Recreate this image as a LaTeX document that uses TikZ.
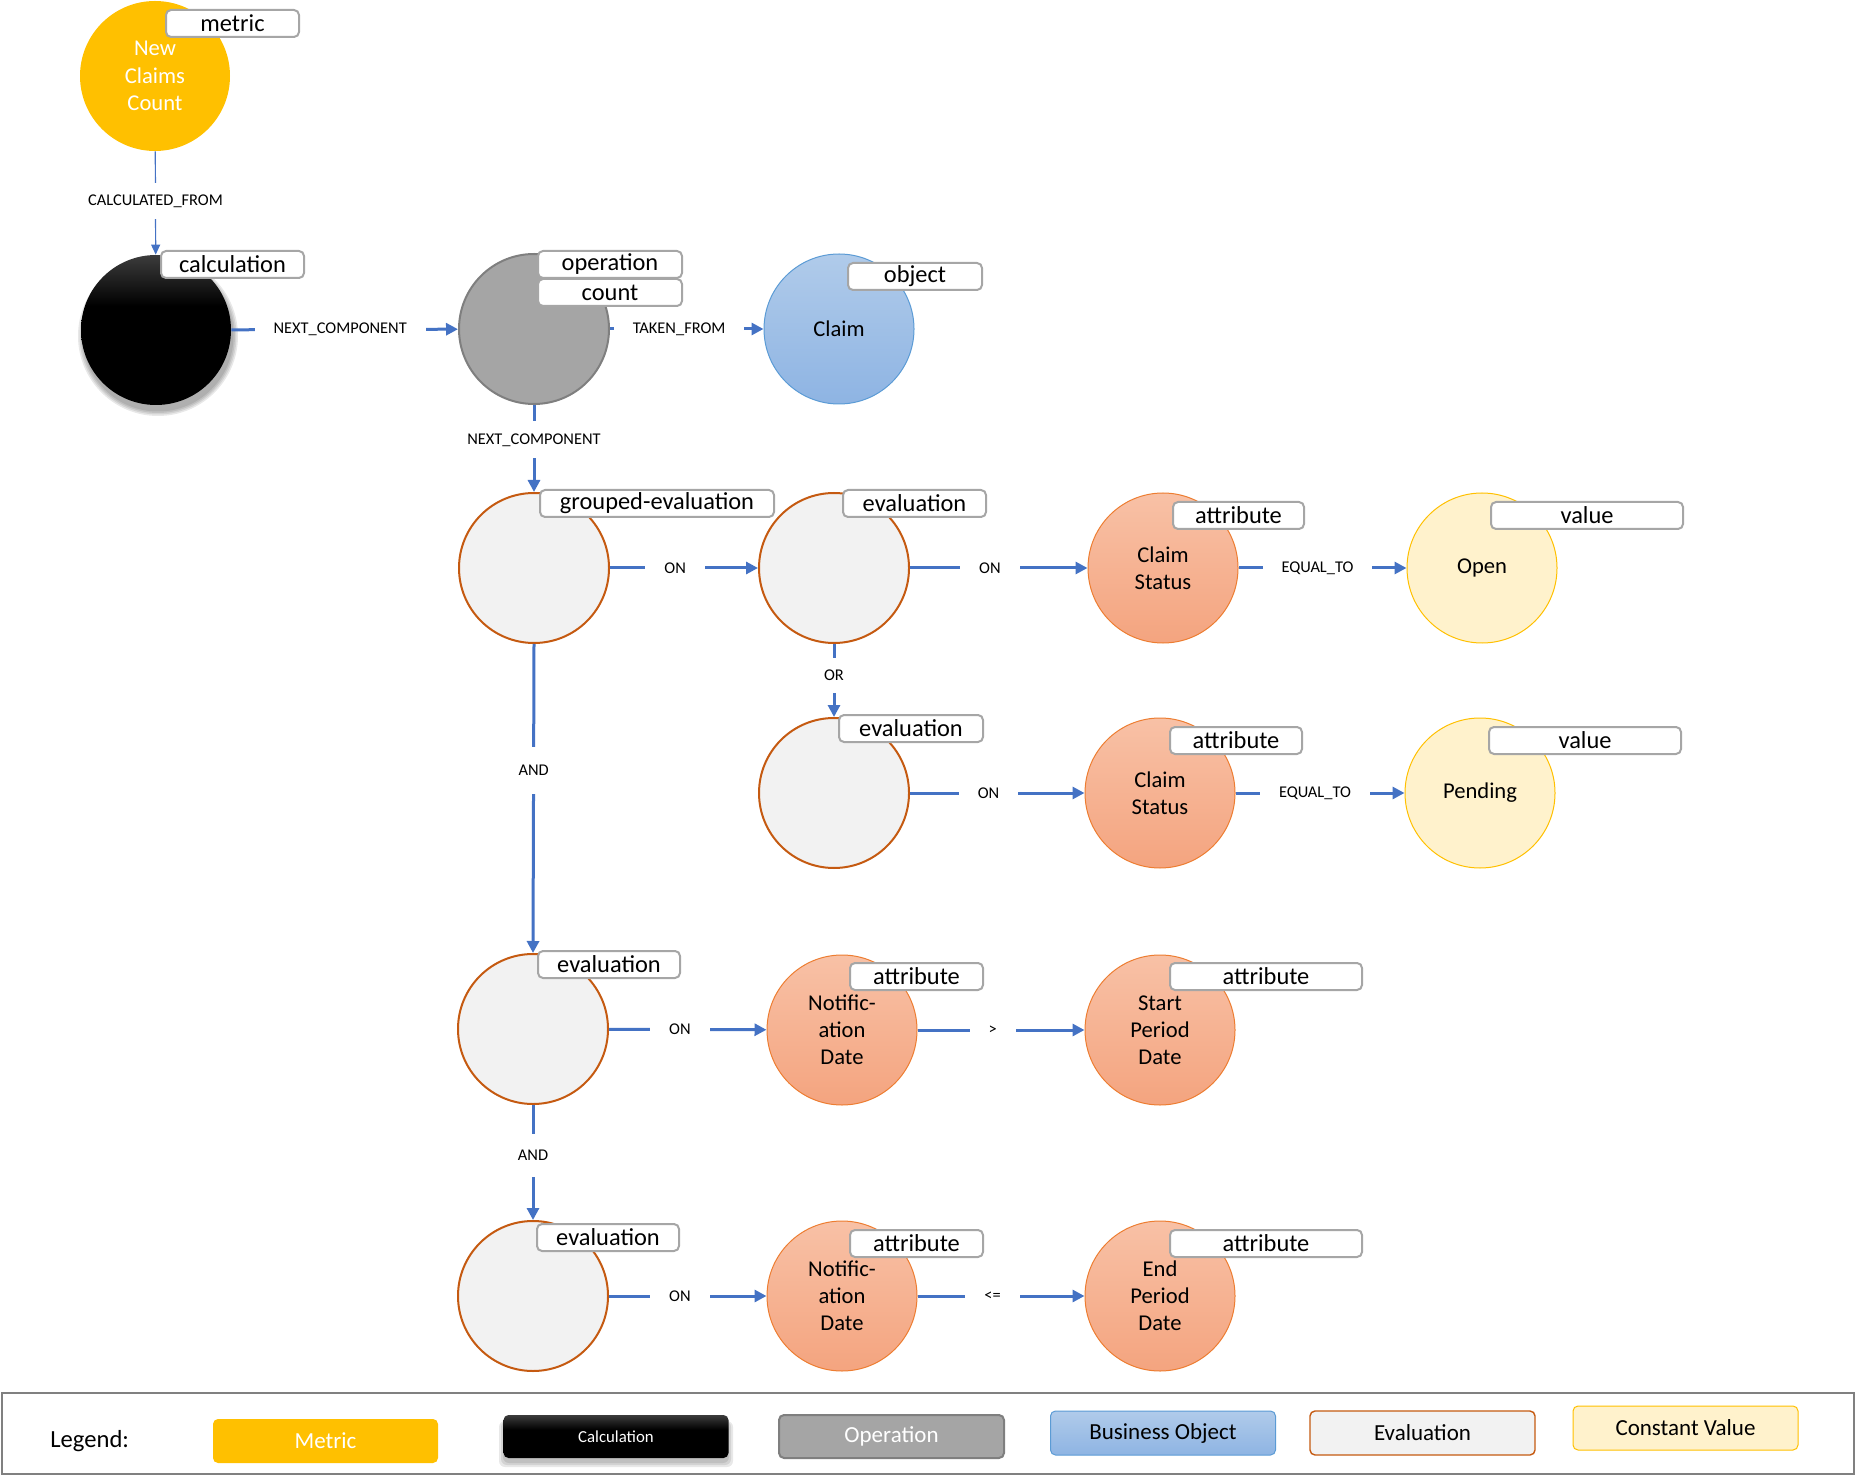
\documentclass[tikz,border=0pt]{standalone}
\usepackage{fontspec}
\setmainfont{Carlito}
\usetikzlibrary{arrows.meta,shadows}
\definecolor{metricC}{HTML}{FFC000}
\definecolor{edgeC}{HTML}{4472C4}
\definecolor{opFill}{HTML}{A5A5A5}
\definecolor{opDraw}{HTML}{7F7F7F}
\definecolor{objTop}{HTML}{B0CBEA}
\definecolor{objBot}{HTML}{8EB4E3}
\definecolor{objDraw}{HTML}{5B9BD5}
\definecolor{evalFill}{HTML}{F2F2F2}
\definecolor{evalDraw}{HTML}{C55A11}
\definecolor{attrTop}{HTML}{F8C1A6}
\definecolor{attrBot}{HTML}{F4A47F}
\definecolor{attrDraw}{HTML}{ED7D31}
\definecolor{valFill}{HTML}{FFF2CC}
\definecolor{valDraw}{HTML}{FFC000}
\definecolor{tagDraw}{HTML}{A6A6A6}
\definecolor{legDraw}{HTML}{808080}
\definecolor{calcTop}{HTML}{3C3C3C}
\pgfdeclareverticalshading{calcshade}{100bp}{color(0bp)=(black); color(58bp)=(black); color(75bp)=(calcTop); color(100bp)=(calcTop)}
\tikzset{
  circ/.style={circle, minimum size=75pt, inner sep=0pt, align=center, font=\fontsize{11.3}{13.6}\selectfont},
  metricnode/.style={circ, fill=metricC, text=white},
  calcnode/.style={circ, shading=calcshade},
  softshadow/.style={fill=black, opacity=0.09},
  opnode/.style={circ, fill=opFill, draw=opDraw, line width=1pt},
  objnode/.style={circ, top color=objTop, bottom color=objBot, draw=objDraw, line width=0.5pt},
  evalnode/.style={circ, fill=evalFill, draw=evalDraw, line width=1pt},
  attrnode/.style={circ, top color=attrTop, bottom color=attrBot, draw=attrDraw, line width=0.5pt},
  valnode/.style={circ, fill=valFill, draw=valDraw, line width=0.5pt},
  tagbox/.style={draw=tagDraw, fill=white, line width=1pt, rounded corners=2.5pt, inner sep=0pt,
    minimum height=13.5pt, anchor=north west, font=\fontsize{12.2}{14}\selectfont},
  conn/.style={draw=edgeC, line width=1.5pt, -{Triangle[length=6pt,width=6pt]}},
  thinconn/.style={draw=edgeC, line width=0.6pt, -{Triangle[length=5pt,width=4.5pt]}},
  elabel/.style={fill=white, inner xsep=9.5pt, inner ysep=6pt, font=\fontsize{8.2}{10}\selectfont, text=black},
  legbox/.style={rounded corners=2.5pt, inner sep=0pt, minimum width=112.5pt, minimum height=22pt,
    font=\fontsize{11.5}{13}\selectfont},
}
\begin{document}
\begin{tikzpicture}[x=0.5pt, y=-0.5pt]
\useasboundingbox (0,0) rectangle (1856,1475);
% soft shadow of the calculation circle
\foreach \r in {75.5,77,78.5,80} {\fill[softshadow] (158,336) circle[radius=\r];}
% circles
\node[metricnode] (metric) at (155,76) {New\\Claims\\Count};
\node[calcnode] (calc) at (156,330) {};
\node[opnode] (op) at (534,329) {};
\node[objnode] (claim) at (839,329) {Claim};
\node[evalnode] (grouped) at (534,568) {};
\node[evalnode] (eval1) at (834,568) {};
\node[attrnode] (attr1) at (1163,568) {Claim\\Status};
\node[valnode] (open) at (1482,568) {Open};
\node[evalnode] (eval2) at (834,793) {};
\node[attrnode] (attr2) at (1160,793) {Claim\\Status};
\node[valnode] (pending) at (1480,793) {Pending};
\node[evalnode] (eval3) at (533,1029) {};
\node[attrnode] (notif1) at (842,1030) {Notific-\\ation\\Date};
\node[attrnode] (start) at (1160,1030) {Start\\Period\\Date};
\node[evalnode] (eval4) at (533,1296) {};
\node[attrnode] (notif2) at (842,1296) {Notific-\\ation\\Date};
\node[attrnode] (end) at (1160,1296) {End\\Period\\Date};
% connectors
\draw[thinconn] (metric) -- node[elabel, pos=0.48]{CALCULATED\_FROM} (calc);
\draw[conn] (calc) -- node[elabel, pos=0.48]{NEXT\_COMPONENT} (op);
\draw[conn] (op) -- node[elabel, pos=0.45]{TAKEN\_FROM} (claim);
\draw[conn] (op) -- node[elabel, pos=0.4]{NEXT\_COMPONENT} (grouped);
\draw[conn] (grouped) -- node[elabel, pos=0.44]{ON} (eval1);
\draw[conn] (eval1) -- node[elabel, pos=0.45]{ON} (attr1);
\draw[conn] (attr1) -- node[elabel, pos=0.47]{EQUAL\_TO} (open);
\draw[conn] (eval1) -- node[elabel, pos=0.43]{OR} (eval2);
\draw[conn] (eval2) -- node[elabel, pos=0.45]{ON} (attr2);
\draw[conn] (attr2) -- node[elabel, pos=0.47]{EQUAL\_TO} (pending);
\draw[conn] (grouped.south) -- node[elabel, pos=0.41, inner ysep=9pt]{AND} (eval3.north);
\draw[conn] (eval3) -- node[elabel, pos=0.45]{ON} (notif1);
\draw[conn] (notif1) -- node[elabel, pos=0.45]{>} (start);
\draw[conn] (eval3) -- node[elabel, pos=0.44, inner ysep=8pt]{AND} (eval4);
\draw[conn] (eval4) -- node[elabel, pos=0.45]{ON} (notif2);
\draw[conn] (notif2) -- node[elabel, pos=0.45]{<=} (end);
% tags
\node[tagbox, minimum width=66.5pt] (tmetric) at (165,9) {metric};
\node[tagbox, minimum width=71.5pt] (tcalc) at (160,250) {calculation};
\node[tagbox, minimum width=72pt] (top) at (537,250) {operation};
\node[tagbox, minimum width=72pt] (tcount) at (537,278) {count};
\node[tagbox, minimum width=67pt] (tobj) at (847,262) {object};
\node[tagbox, minimum width=117pt] (tgrouped) at (539,489) {grouped-evaluation};
\node[tagbox, minimum width=71.5pt] (teval1) at (842,489) {evaluation};
\node[tagbox, minimum width=65.5pt] (tattr1) at (1172,501) {attribute};
\node[tagbox, minimum width=96pt] (tval1) at (1490,501) {value};
\node[tagbox, minimum width=72pt] (teval2) at (838,714) {evaluation};
\node[tagbox, minimum width=66pt] (tattr2) at (1169,726) {attribute};
\node[tagbox, minimum width=96pt] (tval2) at (1488,726) {value};
\node[tagbox, minimum width=71pt] (teval3) at (537,950) {evaluation};
\node[tagbox, minimum width=66.5pt] (tnotif1) at (849,962) {attribute};
\node[tagbox, minimum width=96pt] (tstart) at (1169,962) {attribute};
\node[tagbox, minimum width=71pt] (teval4) at (536,1223) {evaluation};
\node[tagbox, minimum width=66.5pt] (tnotif2) at (849,1229) {attribute};
\node[tagbox, minimum width=96pt] (tend) at (1169,1229) {attribute};
% legend
\node[draw=legDraw, line width=1pt, minimum width=926pt, minimum height=40.5pt, inner sep=0pt] (legend) at (928,1433.5) {};
\node[anchor=west, font=\fontsize{12.3}{14}\selectfont, inner sep=0pt] (leglabel) at (50,1441) {Legend:};
\node[legbox, fill=metricC, text=white] (lmetric) at (325.5,1441) {Metric};
\foreach \d in {1,3,5} {\fill[softshadow, rounded corners=3pt] (504-\d,1421) rectangle (728+\d,1462+\d);}
\node[legbox, shading=calcshade, text=white, minimum height=21.5pt,
  font=\fontsize{8.4}{10}\selectfont] (lcalc) at (616,1436.5) {Calculation};
\node[legbox, fill=opFill, draw=opDraw, line width=1pt, text=white, minimum height=21.5pt] (lop) at (891.5,1436.5) {Operation};
\node[legbox, top color=objTop, bottom color=objBot, draw=objDraw, line width=0.5pt] (lobj) at (1163,1433) {Business Object};
\node[legbox, fill=evalFill, draw=evalDraw, line width=0.7pt] (leval) at (1422.5,1433) {Evaluation};
\node[legbox, fill=valFill, draw=valDraw, line width=0.5pt] (lval) at (1685.5,1428) {Constant Value};
\end{tikzpicture}
\end{document}
